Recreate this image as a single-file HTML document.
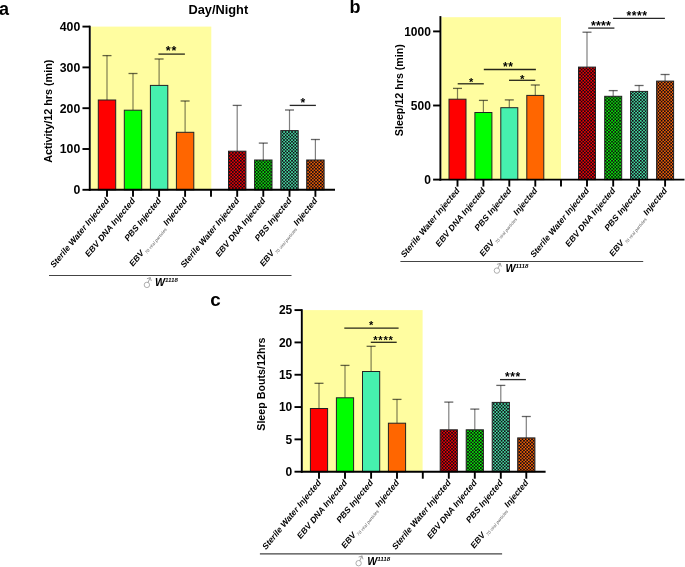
<!DOCTYPE html>
<html><head><meta charset="utf-8"><style>
html,body{margin:0;padding:0;background:#fff;}
body{width:685px;height:567px;overflow:hidden;}
svg{display:block;font-family:"Liberation Sans", sans-serif;will-change:transform;}
</style></head><body>
<svg width="685" height="567" viewBox="0 0 685 567">
<defs>
<pattern id="pat_r" patternUnits="userSpaceOnUse" width="3.2" height="3.2"><rect width="3.2" height="3.2" fill="#FF0000"/><rect width="1.75" height="1.75" fill="#140a14"/><rect x="1.6" y="1.6" width="1.75" height="1.75" fill="#140a14"/></pattern>
<pattern id="pat_g" patternUnits="userSpaceOnUse" width="3.2" height="3.2"><rect width="3.2" height="3.2" fill="#00FF00"/><rect width="1.75" height="1.75" fill="#140a14"/><rect x="1.6" y="1.6" width="1.75" height="1.75" fill="#140a14"/></pattern>
<pattern id="pat_t" patternUnits="userSpaceOnUse" width="3.2" height="3.2"><rect width="3.2" height="3.2" fill="#46F0AE"/><rect width="1.75" height="1.75" fill="#140a14"/><rect x="1.6" y="1.6" width="1.75" height="1.75" fill="#140a14"/></pattern>
<pattern id="pat_o" patternUnits="userSpaceOnUse" width="3.2" height="3.2"><rect width="3.2" height="3.2" fill="#FF6600"/><rect width="1.75" height="1.75" fill="#140a14"/><rect x="1.6" y="1.6" width="1.75" height="1.75" fill="#140a14"/></pattern>
</defs>
<rect width="685" height="567" fill="#fff"/>
<text x="-1.0" y="15.1" font-size="18" font-weight="bold">a</text>
<text x="349.4" y="12.6" font-size="18" font-weight="bold">b</text>
<text x="210.3" y="306.2" font-size="18.8" font-weight="bold">c</text>
<text x="218.3" y="14.2" text-anchor="middle" font-size="12.8" font-weight="bold">Day/Night</text>
<rect x="90.65" y="26.60" width="120.65" height="163.20" fill="#FFFDA0"/>
<line x1="107.00" y1="100.00" x2="107.00" y2="55.60" stroke="#000" stroke-opacity="0.5" stroke-width="1.2"/>
<line x1="102.50" y1="55.60" x2="111.50" y2="55.60" stroke="#000" stroke-opacity="0.6" stroke-width="1.3"/>
<rect x="98.30" y="100.00" width="17.40" height="89.80" fill="#FF0000" stroke="#222" stroke-width="1"/>
<line x1="133.00" y1="110.20" x2="133.00" y2="73.50" stroke="#000" stroke-opacity="0.5" stroke-width="1.2"/>
<line x1="128.50" y1="73.50" x2="137.50" y2="73.50" stroke="#000" stroke-opacity="0.6" stroke-width="1.3"/>
<rect x="124.30" y="110.20" width="17.40" height="79.60" fill="#00FF00" stroke="#222" stroke-width="1"/>
<line x1="159.10" y1="85.40" x2="159.10" y2="59.00" stroke="#000" stroke-opacity="0.5" stroke-width="1.2"/>
<line x1="154.60" y1="59.00" x2="163.60" y2="59.00" stroke="#000" stroke-opacity="0.6" stroke-width="1.3"/>
<rect x="150.40" y="85.40" width="17.40" height="104.40" fill="#46F0AE" stroke="#222" stroke-width="1"/>
<line x1="185.10" y1="132.30" x2="185.10" y2="101.00" stroke="#000" stroke-opacity="0.5" stroke-width="1.2"/>
<line x1="180.60" y1="101.00" x2="189.60" y2="101.00" stroke="#000" stroke-opacity="0.6" stroke-width="1.3"/>
<rect x="176.40" y="132.30" width="17.40" height="57.50" fill="#FF6600" stroke="#222" stroke-width="1"/>
<line x1="237.20" y1="151.20" x2="237.20" y2="105.40" stroke="#000" stroke-opacity="0.5" stroke-width="1.2"/>
<line x1="232.70" y1="105.40" x2="241.70" y2="105.40" stroke="#000" stroke-opacity="0.6" stroke-width="1.3"/>
<rect x="228.50" y="151.20" width="17.40" height="38.60" fill="url(#pat_r)" stroke="#222" stroke-width="1"/>
<line x1="263.30" y1="160.00" x2="263.30" y2="143.10" stroke="#000" stroke-opacity="0.5" stroke-width="1.2"/>
<line x1="258.80" y1="143.10" x2="267.80" y2="143.10" stroke="#000" stroke-opacity="0.6" stroke-width="1.3"/>
<rect x="254.60" y="160.00" width="17.40" height="29.80" fill="url(#pat_g)" stroke="#222" stroke-width="1"/>
<line x1="289.50" y1="130.60" x2="289.50" y2="110.00" stroke="#000" stroke-opacity="0.5" stroke-width="1.2"/>
<line x1="285.00" y1="110.00" x2="294.00" y2="110.00" stroke="#000" stroke-opacity="0.6" stroke-width="1.3"/>
<rect x="280.80" y="130.60" width="17.40" height="59.20" fill="url(#pat_t)" stroke="#222" stroke-width="1"/>
<line x1="315.40" y1="160.00" x2="315.40" y2="139.50" stroke="#000" stroke-opacity="0.5" stroke-width="1.2"/>
<line x1="310.90" y1="139.50" x2="319.90" y2="139.50" stroke="#000" stroke-opacity="0.6" stroke-width="1.3"/>
<rect x="306.70" y="160.00" width="17.40" height="29.80" fill="url(#pat_o)" stroke="#222" stroke-width="1"/>
<line x1="89.75" y1="25.70" x2="89.75" y2="190.80" stroke="#000" stroke-width="1.9"/>
<line x1="88.85" y1="189.80" x2="335.00" y2="189.80" stroke="#000" stroke-width="1.9"/>
<line x1="82.45" y1="189.80" x2="89.75" y2="189.80" stroke="#000" stroke-width="1.9"/>
<text x="80.25" y="194.10" text-anchor="end" font-size="12.3" font-weight="bold">0</text>
<line x1="82.45" y1="149.00" x2="89.75" y2="149.00" stroke="#000" stroke-width="1.9"/>
<text x="80.25" y="153.30" text-anchor="end" font-size="12.3" font-weight="bold">100</text>
<line x1="82.45" y1="108.20" x2="89.75" y2="108.20" stroke="#000" stroke-width="1.9"/>
<text x="80.25" y="112.50" text-anchor="end" font-size="12.3" font-weight="bold">200</text>
<line x1="82.45" y1="67.40" x2="89.75" y2="67.40" stroke="#000" stroke-width="1.9"/>
<text x="80.25" y="71.70" text-anchor="end" font-size="12.3" font-weight="bold">300</text>
<line x1="82.45" y1="26.60" x2="89.75" y2="26.60" stroke="#000" stroke-width="1.9"/>
<text x="80.25" y="30.90" text-anchor="end" font-size="12.3" font-weight="bold">400</text>
<line x1="107.00" y1="189.80" x2="107.00" y2="196.80" stroke="#000" stroke-width="1.9"/>
<line x1="133.00" y1="189.80" x2="133.00" y2="196.80" stroke="#000" stroke-width="1.9"/>
<line x1="159.10" y1="189.80" x2="159.10" y2="196.80" stroke="#000" stroke-width="1.9"/>
<line x1="185.10" y1="189.80" x2="185.10" y2="196.80" stroke="#000" stroke-width="1.9"/>
<line x1="211.00" y1="189.80" x2="211.00" y2="196.80" stroke="#000" stroke-width="1.9"/>
<line x1="237.20" y1="189.80" x2="237.20" y2="196.80" stroke="#000" stroke-width="1.9"/>
<line x1="263.30" y1="189.80" x2="263.30" y2="196.80" stroke="#000" stroke-width="1.9"/>
<line x1="289.50" y1="189.80" x2="289.50" y2="196.80" stroke="#000" stroke-width="1.9"/>
<line x1="315.40" y1="189.80" x2="315.40" y2="196.80" stroke="#000" stroke-width="1.9"/>
<text x="0" y="0" text-anchor="end" font-size="9.4" font-weight="bold" transform="translate(109.30 201.30) scale(0.826 1) rotate(-45)" xml:space="preserve">Sterile Water Injected</text>
<text x="0" y="0" text-anchor="end" font-size="9.4" font-weight="bold" transform="translate(135.30 201.30) scale(0.826 1) rotate(-45)" xml:space="preserve">EBV DNA Injected</text>
<text x="0" y="0" text-anchor="end" font-size="9.4" font-weight="bold" transform="translate(161.40 201.30) scale(0.826 1) rotate(-45)" xml:space="preserve">PBS Injected</text>
<text x="0" y="0" text-anchor="end" font-size="9.4" font-weight="bold" transform="translate(187.40 201.30) scale(0.826 1) rotate(-45)" xml:space="preserve">EBV<tspan font-size="4.8" font-weight="normal" fill="#555" dx="1.8" dy="2.6">70 viral particles</tspan><tspan dx="2.2" dy="-2.6">Injected</tspan></text>
<text x="0" y="0" text-anchor="end" font-size="9.4" font-weight="bold" transform="translate(239.50 201.30) scale(0.826 1) rotate(-45)" xml:space="preserve">Sterile Water Injected</text>
<text x="0" y="0" text-anchor="end" font-size="9.4" font-weight="bold" transform="translate(265.60 201.30) scale(0.826 1) rotate(-45)" xml:space="preserve">EBV DNA Injected</text>
<text x="0" y="0" text-anchor="end" font-size="9.4" font-weight="bold" transform="translate(291.80 201.30) scale(0.826 1) rotate(-45)" xml:space="preserve">PBS Injected</text>
<text x="0" y="0" text-anchor="end" font-size="9.4" font-weight="bold" transform="translate(317.70 201.30) scale(0.826 1) rotate(-45)" xml:space="preserve">EBV<tspan font-size="4.8" font-weight="normal" fill="#555" dx="1.8" dy="2.6">70 viral particles</tspan><tspan dx="2.2" dy="-2.6">Injected</tspan></text>
<text x="52.20" y="111.20" text-anchor="middle" font-size="10.8" font-weight="bold" transform="rotate(-90 52.20 111.20)">Activity/12 hrs (min)</text>
<line x1="158.40" y1="54.10" x2="184.90" y2="54.10" stroke="#000" stroke-opacity="0.85" stroke-width="1.3"/>
<text x="165.72" y="55.33" font-size="12.5" font-weight="bold" letter-spacing="0.94">**</text>
<line x1="289.70" y1="105.40" x2="315.90" y2="105.40" stroke="#000" stroke-opacity="0.85" stroke-width="1.3"/>
<text x="300.38" y="106.83" font-size="12.2" font-weight="bold" letter-spacing="0.25">*</text>
<line x1="49.00" y1="275.50" x2="291.50" y2="275.50" stroke="#444" stroke-width="1.1"/>
<circle cx="146.90" cy="284.90" r="2.7" fill="none" stroke="#999" stroke-width="0.8"/>
<path d="M148.10 282.30 L150.20 277.70 M147.30 278.60 L150.20 277.70 L151.20 280.60" fill="none" stroke="#999" stroke-width="0.9" stroke-linecap="round" stroke-linejoin="round"/>
<text x="155.00" y="285.60" font-size="10.6" font-weight="bold" font-style="italic">W<tspan font-size="6.2" dy="-3.6">1118</tspan></text>
<rect x="441.30" y="17.20" width="119.70" height="162.40" fill="#FFFDA0"/>
<line x1="457.50" y1="99.20" x2="457.50" y2="88.40" stroke="#000" stroke-opacity="0.5" stroke-width="1.2"/>
<line x1="453.00" y1="88.40" x2="462.00" y2="88.40" stroke="#000" stroke-opacity="0.6" stroke-width="1.3"/>
<rect x="449.00" y="99.20" width="17.00" height="80.40" fill="#FF0000" stroke="#222" stroke-width="1"/>
<line x1="483.40" y1="112.50" x2="483.40" y2="100.40" stroke="#000" stroke-opacity="0.5" stroke-width="1.2"/>
<line x1="478.90" y1="100.40" x2="487.90" y2="100.40" stroke="#000" stroke-opacity="0.6" stroke-width="1.3"/>
<rect x="474.90" y="112.50" width="17.00" height="67.10" fill="#00FF00" stroke="#222" stroke-width="1"/>
<line x1="509.30" y1="107.70" x2="509.30" y2="99.90" stroke="#000" stroke-opacity="0.5" stroke-width="1.2"/>
<line x1="504.80" y1="99.90" x2="513.80" y2="99.90" stroke="#000" stroke-opacity="0.6" stroke-width="1.3"/>
<rect x="500.80" y="107.70" width="17.00" height="71.90" fill="#46F0AE" stroke="#222" stroke-width="1"/>
<line x1="535.30" y1="95.40" x2="535.30" y2="85.00" stroke="#000" stroke-opacity="0.5" stroke-width="1.2"/>
<line x1="530.80" y1="85.00" x2="539.80" y2="85.00" stroke="#000" stroke-opacity="0.6" stroke-width="1.3"/>
<rect x="526.80" y="95.40" width="17.00" height="84.20" fill="#FF6600" stroke="#222" stroke-width="1"/>
<line x1="587.00" y1="67.10" x2="587.00" y2="32.20" stroke="#000" stroke-opacity="0.5" stroke-width="1.2"/>
<line x1="582.50" y1="32.20" x2="591.50" y2="32.20" stroke="#000" stroke-opacity="0.6" stroke-width="1.3"/>
<rect x="578.50" y="67.10" width="17.00" height="112.50" fill="url(#pat_r)" stroke="#222" stroke-width="1"/>
<line x1="613.20" y1="96.30" x2="613.20" y2="90.60" stroke="#000" stroke-opacity="0.5" stroke-width="1.2"/>
<line x1="608.70" y1="90.60" x2="617.70" y2="90.60" stroke="#000" stroke-opacity="0.6" stroke-width="1.3"/>
<rect x="604.70" y="96.30" width="17.00" height="83.30" fill="url(#pat_g)" stroke="#222" stroke-width="1"/>
<line x1="639.10" y1="91.40" x2="639.10" y2="85.50" stroke="#000" stroke-opacity="0.5" stroke-width="1.2"/>
<line x1="634.60" y1="85.50" x2="643.60" y2="85.50" stroke="#000" stroke-opacity="0.6" stroke-width="1.3"/>
<rect x="630.60" y="91.40" width="17.00" height="88.20" fill="url(#pat_t)" stroke="#222" stroke-width="1"/>
<line x1="665.10" y1="81.10" x2="665.10" y2="74.50" stroke="#000" stroke-opacity="0.5" stroke-width="1.2"/>
<line x1="660.60" y1="74.50" x2="669.60" y2="74.50" stroke="#000" stroke-opacity="0.6" stroke-width="1.3"/>
<rect x="656.60" y="81.10" width="17.00" height="98.50" fill="url(#pat_o)" stroke="#222" stroke-width="1"/>
<line x1="440.40" y1="16.10" x2="440.40" y2="180.60" stroke="#000" stroke-width="1.9"/>
<line x1="439.50" y1="179.60" x2="684.50" y2="179.60" stroke="#000" stroke-width="1.9"/>
<line x1="433.10" y1="179.60" x2="440.40" y2="179.60" stroke="#000" stroke-width="1.9"/>
<text x="430.90" y="183.90" text-anchor="end" font-size="12" font-weight="bold">0</text>
<line x1="433.10" y1="105.50" x2="440.40" y2="105.50" stroke="#000" stroke-width="1.9"/>
<text x="430.90" y="109.80" text-anchor="end" font-size="12" font-weight="bold">500</text>
<line x1="433.10" y1="31.40" x2="440.40" y2="31.40" stroke="#000" stroke-width="1.9"/>
<text x="430.90" y="35.70" text-anchor="end" font-size="12" font-weight="bold">1000</text>
<line x1="457.50" y1="179.60" x2="457.50" y2="186.60" stroke="#000" stroke-width="1.9"/>
<line x1="483.40" y1="179.60" x2="483.40" y2="186.60" stroke="#000" stroke-width="1.9"/>
<line x1="509.30" y1="179.60" x2="509.30" y2="186.60" stroke="#000" stroke-width="1.9"/>
<line x1="535.30" y1="179.60" x2="535.30" y2="186.60" stroke="#000" stroke-width="1.9"/>
<line x1="561.00" y1="179.60" x2="561.00" y2="186.60" stroke="#000" stroke-width="1.9"/>
<line x1="587.00" y1="179.60" x2="587.00" y2="186.60" stroke="#000" stroke-width="1.9"/>
<line x1="613.20" y1="179.60" x2="613.20" y2="186.60" stroke="#000" stroke-width="1.9"/>
<line x1="639.10" y1="179.60" x2="639.10" y2="186.60" stroke="#000" stroke-width="1.9"/>
<line x1="665.10" y1="179.60" x2="665.10" y2="186.60" stroke="#000" stroke-width="1.9"/>
<text x="0" y="0" text-anchor="end" font-size="9.4" font-weight="bold" transform="translate(459.80 191.10) scale(0.826 1) rotate(-45)" xml:space="preserve">Sterile Water Injected</text>
<text x="0" y="0" text-anchor="end" font-size="9.4" font-weight="bold" transform="translate(485.70 191.10) scale(0.826 1) rotate(-45)" xml:space="preserve">EBV DNA Injected</text>
<text x="0" y="0" text-anchor="end" font-size="9.4" font-weight="bold" transform="translate(511.60 191.10) scale(0.826 1) rotate(-45)" xml:space="preserve">PBS Injected</text>
<text x="0" y="0" text-anchor="end" font-size="9.4" font-weight="bold" transform="translate(537.60 191.10) scale(0.826 1) rotate(-45)" xml:space="preserve">EBV<tspan font-size="4.8" font-weight="normal" fill="#555" dx="1.8" dy="2.6">70 viral particles</tspan><tspan dx="2.2" dy="-2.6">Injected</tspan></text>
<text x="0" y="0" text-anchor="end" font-size="9.4" font-weight="bold" transform="translate(589.30 191.10) scale(0.826 1) rotate(-45)" xml:space="preserve">Sterile Water Injected</text>
<text x="0" y="0" text-anchor="end" font-size="9.4" font-weight="bold" transform="translate(615.50 191.10) scale(0.826 1) rotate(-45)" xml:space="preserve">EBV DNA Injected</text>
<text x="0" y="0" text-anchor="end" font-size="9.4" font-weight="bold" transform="translate(641.40 191.10) scale(0.826 1) rotate(-45)" xml:space="preserve">PBS Injected</text>
<text x="0" y="0" text-anchor="end" font-size="9.4" font-weight="bold" transform="translate(667.40 191.10) scale(0.826 1) rotate(-45)" xml:space="preserve">EBV<tspan font-size="4.8" font-weight="normal" fill="#555" dx="1.8" dy="2.6">70 viral particles</tspan><tspan dx="2.2" dy="-2.6">Injected</tspan></text>
<text x="403.00" y="90.10" text-anchor="middle" font-size="10.7" font-weight="bold" transform="rotate(-90 403.00 90.10)">Sleep/12 hrs (min)</text>
<line x1="457.70" y1="83.80" x2="483.80" y2="83.80" stroke="#000" stroke-opacity="0.85" stroke-width="1.3"/>
<text x="468.91" y="85.83" font-size="11" font-weight="bold" letter-spacing="0.72">*</text>
<line x1="483.80" y1="69.50" x2="535.90" y2="69.50" stroke="#000" stroke-opacity="0.85" stroke-width="1.3"/>
<text x="503.12" y="71.26" font-size="12" font-weight="bold" letter-spacing="0.53">**</text>
<line x1="509.00" y1="80.30" x2="535.30" y2="80.30" stroke="#000" stroke-opacity="0.85" stroke-width="1.3"/>
<text x="520.12" y="82.50" font-size="11.5" font-weight="bold" letter-spacing="0.53">*</text>
<line x1="588.20" y1="28.10" x2="614.40" y2="28.10" stroke="#000" stroke-opacity="0.85" stroke-width="1.3"/>
<text x="591.04" y="30.09" font-size="12.4" font-weight="bold" letter-spacing="0.18">****</text>
<line x1="613.10" y1="18.40" x2="664.90" y2="18.40" stroke="#000" stroke-opacity="0.85" stroke-width="1.3"/>
<text x="626.58" y="19.93" font-size="12.2" font-weight="bold" letter-spacing="0.45">****</text>
<line x1="400.40" y1="261.50" x2="643.20" y2="261.50" stroke="#444" stroke-width="1.1"/>
<circle cx="496.90" cy="270.60" r="2.7" fill="none" stroke="#999" stroke-width="0.8"/>
<path d="M498.10 268.00 L500.20 263.40 M497.30 264.30 L500.20 263.40 L501.20 266.30" fill="none" stroke="#999" stroke-width="0.9" stroke-linecap="round" stroke-linejoin="round"/>
<text x="505.60" y="271.50" font-size="10.6" font-weight="bold" font-style="italic">W<tspan font-size="6.2" dy="-3.6">1118</tspan></text>
<rect x="302.70" y="310.10" width="119.90" height="161.60" fill="#FFFDA0"/>
<line x1="319.00" y1="408.50" x2="319.00" y2="383.30" stroke="#000" stroke-opacity="0.5" stroke-width="1.2"/>
<line x1="314.50" y1="383.30" x2="323.50" y2="383.30" stroke="#000" stroke-opacity="0.6" stroke-width="1.3"/>
<rect x="310.40" y="408.50" width="17.20" height="63.20" fill="#FF0000" stroke="#222" stroke-width="1"/>
<line x1="345.00" y1="397.80" x2="345.00" y2="365.40" stroke="#000" stroke-opacity="0.5" stroke-width="1.2"/>
<line x1="340.50" y1="365.40" x2="349.50" y2="365.40" stroke="#000" stroke-opacity="0.6" stroke-width="1.3"/>
<rect x="336.40" y="397.80" width="17.20" height="73.90" fill="#00FF00" stroke="#222" stroke-width="1"/>
<line x1="371.10" y1="371.50" x2="371.10" y2="346.30" stroke="#000" stroke-opacity="0.5" stroke-width="1.2"/>
<line x1="366.60" y1="346.30" x2="375.60" y2="346.30" stroke="#000" stroke-opacity="0.6" stroke-width="1.3"/>
<rect x="362.50" y="371.50" width="17.20" height="100.20" fill="#46F0AE" stroke="#222" stroke-width="1"/>
<line x1="397.00" y1="423.20" x2="397.00" y2="399.40" stroke="#000" stroke-opacity="0.5" stroke-width="1.2"/>
<line x1="392.50" y1="399.40" x2="401.50" y2="399.40" stroke="#000" stroke-opacity="0.6" stroke-width="1.3"/>
<rect x="388.40" y="423.20" width="17.20" height="48.50" fill="#FF6600" stroke="#222" stroke-width="1"/>
<line x1="448.80" y1="429.80" x2="448.80" y2="402.10" stroke="#000" stroke-opacity="0.5" stroke-width="1.2"/>
<line x1="444.30" y1="402.10" x2="453.30" y2="402.10" stroke="#000" stroke-opacity="0.6" stroke-width="1.3"/>
<rect x="440.20" y="429.80" width="17.20" height="41.90" fill="url(#pat_r)" stroke="#222" stroke-width="1"/>
<line x1="474.80" y1="429.80" x2="474.80" y2="409.10" stroke="#000" stroke-opacity="0.5" stroke-width="1.2"/>
<line x1="470.30" y1="409.10" x2="479.30" y2="409.10" stroke="#000" stroke-opacity="0.6" stroke-width="1.3"/>
<rect x="466.20" y="429.80" width="17.20" height="41.90" fill="url(#pat_g)" stroke="#222" stroke-width="1"/>
<line x1="500.80" y1="402.40" x2="500.80" y2="385.40" stroke="#000" stroke-opacity="0.5" stroke-width="1.2"/>
<line x1="496.30" y1="385.40" x2="505.30" y2="385.40" stroke="#000" stroke-opacity="0.6" stroke-width="1.3"/>
<rect x="492.20" y="402.40" width="17.20" height="69.30" fill="url(#pat_t)" stroke="#222" stroke-width="1"/>
<line x1="526.30" y1="437.90" x2="526.30" y2="416.50" stroke="#000" stroke-opacity="0.5" stroke-width="1.2"/>
<line x1="521.80" y1="416.50" x2="530.80" y2="416.50" stroke="#000" stroke-opacity="0.6" stroke-width="1.3"/>
<rect x="517.70" y="437.90" width="17.20" height="33.80" fill="url(#pat_o)" stroke="#222" stroke-width="1"/>
<line x1="301.80" y1="309.20" x2="301.80" y2="472.70" stroke="#000" stroke-width="1.9"/>
<line x1="300.90" y1="471.70" x2="545.60" y2="471.70" stroke="#000" stroke-width="1.9"/>
<line x1="294.50" y1="471.70" x2="301.80" y2="471.70" stroke="#000" stroke-width="1.9"/>
<text x="292.30" y="476.00" text-anchor="end" font-size="12" font-weight="bold">0</text>
<line x1="294.50" y1="439.38" x2="301.80" y2="439.38" stroke="#000" stroke-width="1.9"/>
<text x="292.30" y="443.68" text-anchor="end" font-size="12" font-weight="bold">5</text>
<line x1="294.50" y1="407.06" x2="301.80" y2="407.06" stroke="#000" stroke-width="1.9"/>
<text x="292.30" y="411.36" text-anchor="end" font-size="12" font-weight="bold">10</text>
<line x1="294.50" y1="374.74" x2="301.80" y2="374.74" stroke="#000" stroke-width="1.9"/>
<text x="292.30" y="379.04" text-anchor="end" font-size="12" font-weight="bold">15</text>
<line x1="294.50" y1="342.42" x2="301.80" y2="342.42" stroke="#000" stroke-width="1.9"/>
<text x="292.30" y="346.72" text-anchor="end" font-size="12" font-weight="bold">20</text>
<line x1="294.50" y1="310.10" x2="301.80" y2="310.10" stroke="#000" stroke-width="1.9"/>
<text x="292.30" y="314.40" text-anchor="end" font-size="12" font-weight="bold">25</text>
<line x1="319.00" y1="471.70" x2="319.00" y2="478.70" stroke="#000" stroke-width="1.9"/>
<line x1="345.00" y1="471.70" x2="345.00" y2="478.70" stroke="#000" stroke-width="1.9"/>
<line x1="371.10" y1="471.70" x2="371.10" y2="478.70" stroke="#000" stroke-width="1.9"/>
<line x1="397.00" y1="471.70" x2="397.00" y2="478.70" stroke="#000" stroke-width="1.9"/>
<line x1="422.80" y1="471.70" x2="422.80" y2="478.70" stroke="#000" stroke-width="1.9"/>
<line x1="448.80" y1="471.70" x2="448.80" y2="478.70" stroke="#000" stroke-width="1.9"/>
<line x1="474.80" y1="471.70" x2="474.80" y2="478.70" stroke="#000" stroke-width="1.9"/>
<line x1="500.80" y1="471.70" x2="500.80" y2="478.70" stroke="#000" stroke-width="1.9"/>
<line x1="526.30" y1="471.70" x2="526.30" y2="478.70" stroke="#000" stroke-width="1.9"/>
<text x="0" y="0" text-anchor="end" font-size="9.4" font-weight="bold" transform="translate(321.30 483.20) scale(0.826 1) rotate(-45)" xml:space="preserve">Sterile Water Injected</text>
<text x="0" y="0" text-anchor="end" font-size="9.4" font-weight="bold" transform="translate(347.30 483.20) scale(0.826 1) rotate(-45)" xml:space="preserve">EBV DNA Injected</text>
<text x="0" y="0" text-anchor="end" font-size="9.4" font-weight="bold" transform="translate(373.40 483.20) scale(0.826 1) rotate(-45)" xml:space="preserve">PBS Injected</text>
<text x="0" y="0" text-anchor="end" font-size="9.4" font-weight="bold" transform="translate(399.30 483.20) scale(0.826 1) rotate(-45)" xml:space="preserve">EBV<tspan font-size="4.8" font-weight="normal" fill="#555" dx="1.8" dy="2.6">70 viral particles</tspan><tspan dx="2.2" dy="-2.6">Injected</tspan></text>
<text x="0" y="0" text-anchor="end" font-size="9.4" font-weight="bold" transform="translate(451.10 483.20) scale(0.826 1) rotate(-45)" xml:space="preserve">Sterile Water Injected</text>
<text x="0" y="0" text-anchor="end" font-size="9.4" font-weight="bold" transform="translate(477.10 483.20) scale(0.826 1) rotate(-45)" xml:space="preserve">EBV DNA Injected</text>
<text x="0" y="0" text-anchor="end" font-size="9.4" font-weight="bold" transform="translate(503.10 483.20) scale(0.826 1) rotate(-45)" xml:space="preserve">PBS Injected</text>
<text x="0" y="0" text-anchor="end" font-size="9.4" font-weight="bold" transform="translate(528.60 483.20) scale(0.826 1) rotate(-45)" xml:space="preserve">EBV<tspan font-size="4.8" font-weight="normal" fill="#555" dx="1.8" dy="2.6">70 viral particles</tspan><tspan dx="2.2" dy="-2.6">Injected</tspan></text>
<text x="264.70" y="384.10" text-anchor="middle" font-size="10.7" font-weight="bold" transform="rotate(-90 264.70 384.10)">Sleep Bouts/12hrs</text>
<line x1="344.30" y1="328.10" x2="398.60" y2="328.10" stroke="#000" stroke-opacity="0.85" stroke-width="1.3"/>
<text x="368.91" y="329.03" font-size="11" font-weight="bold" letter-spacing="0.72">*</text>
<line x1="370.80" y1="342.30" x2="396.70" y2="342.30" stroke="#000" stroke-opacity="0.85" stroke-width="1.3"/>
<text x="373.22" y="343.80" font-size="11.2" font-weight="bold" letter-spacing="0.74">****</text>
<line x1="500.00" y1="379.60" x2="525.90" y2="379.60" stroke="#000" stroke-opacity="0.85" stroke-width="1.3"/>
<text x="504.92" y="380.96" font-size="12" font-weight="bold" letter-spacing="0.63">***</text>
<line x1="259.90" y1="553.90" x2="502.10" y2="553.90" stroke="#444" stroke-width="1.1"/>
<circle cx="358.60" cy="563.20" r="2.7" fill="none" stroke="#999" stroke-width="0.8"/>
<path d="M359.80 560.60 L361.90 556.00 M359.00 556.90 L361.90 556.00 L362.90 558.90" fill="none" stroke="#999" stroke-width="0.9" stroke-linecap="round" stroke-linejoin="round"/>
<text x="367.30" y="564.70" font-size="10.6" font-weight="bold" font-style="italic">W<tspan font-size="6.2" dy="-3.6">1118</tspan></text>
</svg>
</body></html>
